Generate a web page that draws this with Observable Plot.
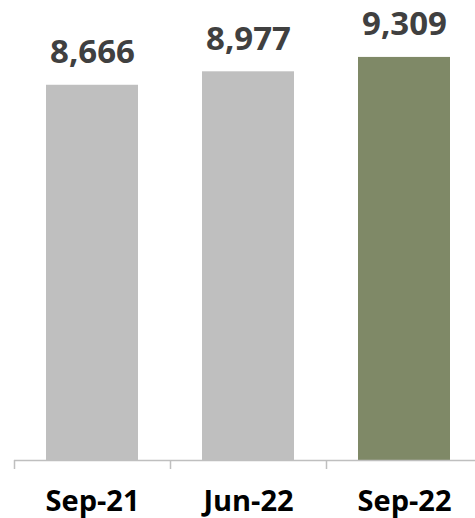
<!DOCTYPE html>
<html>
<head>
<meta charset="utf-8">
<script src="https://cdn.jsdelivr.net/npm/d3@7"></script>
<script src="https://cdn.jsdelivr.net/npm/@observablehq/plot@0.6"></script>
<style>
  html, body { margin: 0; padding: 0; background: #fff; }
  #chart svg { display: block; }
</style>
</head>
<body>
<div id="chart"></div>
<script>
const categories = ["Sep-21", "Jun-22", "Sep-22"];
const values = [8666, 8977, 9309];
const barColors = ["#BFBFBF", "#BFBFBF", "#7F8967"];

const data = categories.map((c, i) => ({ category: c, value: values[i], color: barColors[i] }));

const step = 156;

const chart = Plot.plot({
  width: 475,
  height: 518,
  marginLeft: 14,
  marginRight: 0,
  marginTop: 27,
  marginBottom: 58,
  style: { fontFamily: "'Open Sans', sans-serif", color: "#000", background: "#fff" },
  x: { domain: categories, range: [14, 482], paddingInner: 0.41, paddingOuter: 0.205, label: null },
  y: { domain: [0, 10000], range: [460, 27], axis: null },
  marks: [
    Plot.barY(data, { x: "category", y: "value", fill: "color" }),
    Plot.ruleY([0], { stroke: "#BFBFBF", strokeWidth: 1.5 }),
    Plot.axisX({ tickSize: 9, tickFormat: () => "", dx: -step / 2, stroke: "#BFBFBF", strokeWidth: 1.5, label: null }),
    Plot.axisX({ tickSize: 0, tickPadding: 30, fontSize: 29, fontWeight: "bold", fill: "#000", label: null }),
    Plot.text(data, {
      x: "category", y: "value",
      text: d => d3.format(",")(d.value),
      lineAnchor: "bottom", dy: -22,
      fontSize: 33, fontWeight: "bold", fill: "#404040"
    })
  ]
});
document.getElementById("chart").appendChild(chart);
</script>
</body>
</html>
